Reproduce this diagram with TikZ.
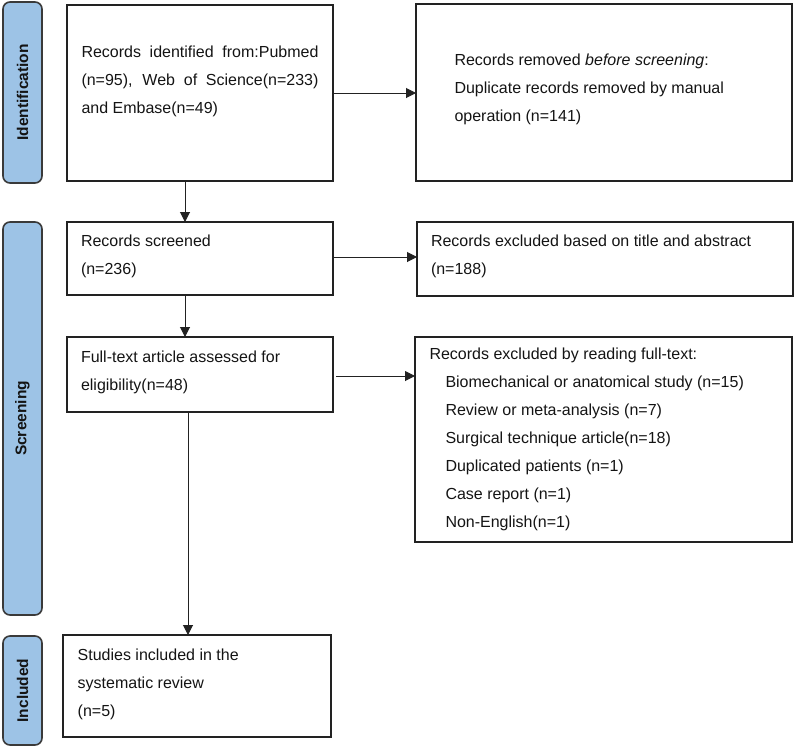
\documentclass[tikz,border=0pt]{standalone}
\usepackage{fontspec}
\setmainfont{Liberation Sans}
\usetikzlibrary{arrows.meta}
\definecolor{sidefill}{HTML}{9DC3E6}
\definecolor{sideline}{HTML}{3A3A3A}
\definecolor{boxline}{HTML}{222222}
\definecolor{txt}{HTML}{141414}
\newcommand{\pbx}[4]{\parbox[t][#2][t]{#1}{\vspace*{#3}\hyphenpenalty=10000\rule{0pt}{12pt}#4}}
\begin{document}
\begin{tikzpicture}[x=1pt,y=-1pt,
  pbox/.style={draw=boxline, line width=1.8pt, inner ysep=0pt, outer sep=0pt, anchor=north west,
    text=txt, font=\fontsize{16}{28}\selectfont},
  side/.style={draw=sideline, fill=sidefill, line width=1.6pt, rounded corners=7pt, rotate=90,
    inner sep=0pt, outer sep=0pt, text=txt, font=\bfseries\fontsize{15.5}{18}\selectfont},
  arr/.style={draw=boxline, line width=1pt, -{Triangle[length=10pt,width=10pt]}}]
\useasboundingbox (0,0) rectangle (794,747);

% side bars
\node[side, minimum width=181pt, minimum height=39pt] (s1) at (22.5,92.5) {Identification};
\node[side, minimum width=393pt, minimum height=39pt] (s2) at (22.5,418.5) {Screening};
\node[side, minimum width=109pt, minimum height=39pt] (s3) at (22.5,690.5) {Included};

% boxes
\node[pbox, inner xsep=14.5pt] (a) at (67,5)
  {\pbx{237pt}{176pt}{40pt}{Records identified from:Pubmed\linebreak (n=95), Web of Science(n=233)\linebreak and Embase(n=49)}};
\node[pbox, inner xsep=38.5pt] (b) at (416,4)
  {\pbx{299pt}{177pt}{49pt}{Records removed \textit{before screening}:\\ Duplicate records removed by manual\\ operation (n=141)}};
\node[pbox, inner xsep=14pt] (c) at (67,222)
  {\pbx{238pt}{73pt}{12pt}{Records screened\\ (n=236)}};
\node[pbox, inner xsep=14pt] (d) at (417,222)
  {\pbx{348pt}{74pt}{12.5pt}{Records excluded based on title and abstract\\ (n=188)}};
\node[pbox, inner xsep=14pt] (e) at (67,337)
  {\pbx{238pt}{75pt}{13.5pt}{Full-text article assessed for\\ eligibility(n=48)}};
\node[pbox, inner xsep=14.5pt] (f) at (415,337)
  {\pbx{348pt}{205pt}{10pt}{Records excluded by reading full-text:\\
   \hspace*{16pt}Biomechanical or anatomical study (n=15)\\
   \hspace*{16pt}Review or meta-analysis (n=7)\\
   \hspace*{16pt}Surgical technique article(n=18)\\
   \hspace*{16pt}Duplicated patients (n=1)\\
   \hspace*{16pt}Case report (n=1)\\
   \hspace*{16pt}Non-English(n=1)}};
\node[pbox, inner xsep=14.7pt] (g) at (63,635)
  {\pbx{238.6pt}{102pt}{13pt}{Studies included in the\\ systematic review\\ (n=5)}};

% connectors
\draw[arr] (a.east) -- (a.east -| b.west);
\draw[arr] ([xshift=118pt]a.south west) -- ([xshift=118pt]c.north west);
\draw[arr] ([yshift=1.5pt]c.east) -- ([yshift=1.5pt]c.east -| d.west);
\draw[arr] ([xshift=118pt]c.south west) -- ([xshift=118pt]e.north west);
\draw[arr] ([xshift=3pt,yshift=-1.5pt]e.east) -- ([yshift=-1.5pt]e.east -| f.west);
\draw[arr] ([xshift=121pt]e.south west) -- ([xshift=125pt]g.north west);
\end{tikzpicture}
\end{document}
